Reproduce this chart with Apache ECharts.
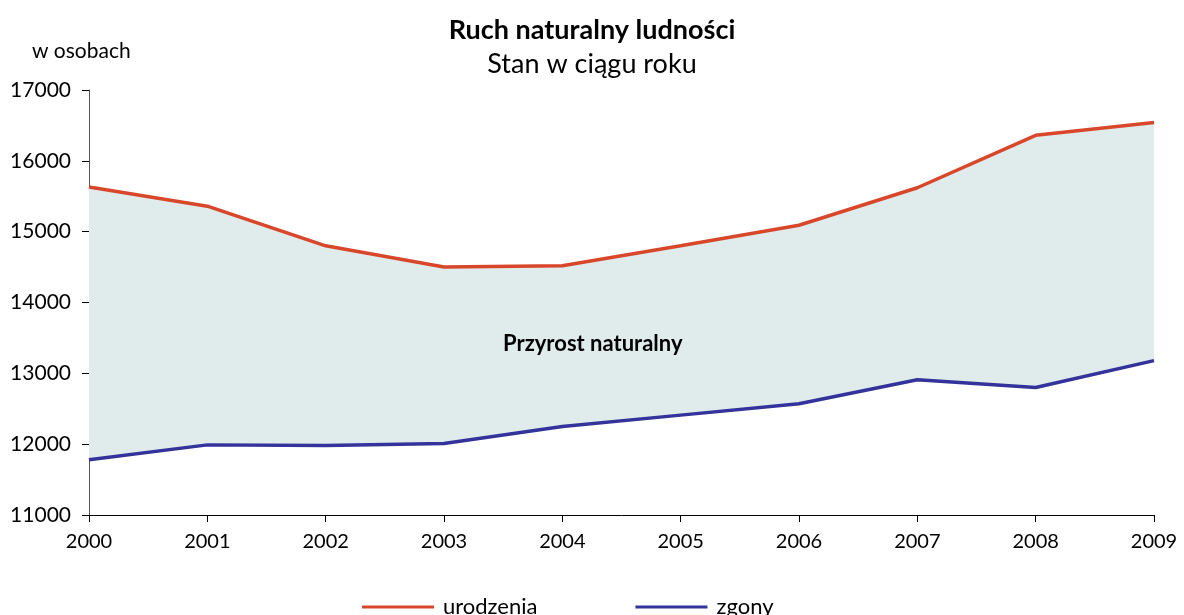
<!DOCTYPE html>
<html>
<head>
<meta charset="utf-8">
<script src="https://cdn.jsdelivr.net/npm/echarts@6/dist/echarts.min.js"></script>
<style>
html,body{margin:0;padding:0;background:#fff;}
#chart{width:1184px;height:615px;}
</style>
</head>
<body>
<div id="chart"></div>
<script>
var years = ['2000','2001','2002','2003','2004','2005','2006','2007','2008','2009'];
var urodzenia = [15630, 15360, 14800, 14500, 14520, 14800, 15090, 15620, 16360, 16540];
var zgony = [11780, 11990, 11980, 12010, 12250, 12410, 12570, 12910, 12800, 13180];
var yTicks = [11000, 12000, 13000, 14000, 15000, 16000, 17000];

var band = urodzenia.map(function (v, i) { return v - zgony[i]; });
var FONT = 'Lato, sans-serif';

var chart = echarts.init(document.getElementById('chart'));
chart.setOption({
  animation: false,
  backgroundColor: '#ffffff',
  textStyle: { fontFamily: FONT, color: '#000' },
  title: [
    { text: 'Ruch naturalny ludności', left: 'center', top: 12,
      textStyle: { fontFamily: FONT, fontSize: 27, fontWeight: 'bold', color: '#000' } },
    { text: 'Stan w ciągu roku', left: 'center', top: 46,
      textStyle: { fontFamily: FONT, fontSize: 27, fontWeight: 'normal', color: '#000' } }
  ],
  legend: {
    bottom: -8, left: 357,
    itemWidth: 72, itemHeight: 3, itemGap: 98,
    data: ['urodzenia', 'zgony'],
    textStyle: { fontFamily: FONT, fontSize: 22, color: '#000', padding: [0,0,0,4] },
    icon: 'rect'
  },
  grid: { left: 89, right: 30, top: 90, bottom: 100, containLabel: false },
  xAxis: {
    type: 'category', data: years, boundaryGap: false,
    axisLine: { lineStyle: { color: '#000', width: 1 } },
    axisTick: { show: true, length: 7, lineStyle: { color: '#000' }, alignWithLabel: true },
    axisLabel: { fontFamily: FONT, fontSize: 20, color: '#000', margin: 17 },
    splitLine: { show: false }
  },
  yAxis: {
    type: 'value', min: yTicks[0], max: yTicks[yTicks.length - 1], interval: 1000,
    name: 'w osobach', nameLocation: 'end', nameGap: 28,
    nameTextStyle: { fontFamily: FONT, fontSize: 21, color: '#000', align: 'left', padding: [0,0,0,-57] },
    axisLine: { show: true, lineStyle: { color: '#555', width: 1 } },
    axisTick: { show: true, length: 7, lineStyle: { color: '#000' } },
    axisLabel: { fontFamily: FONT, fontSize: 21, color: '#000', margin: 18,
      formatter: function (v) { return String(v); } },
    splitLine: { show: false }
  },
  graphic: [
    { type: 'text', left: 503, top: 333, z: 100,
      style: { text: 'Przyrost naturalny', fontFamily: FONT, fontSize: 22, fontWeight: 'bold', fill: '#000' } }
  ],
  series: [
    { name: 'base', type: 'line', data: zgony, stack: 'b', symbol: 'none',
      lineStyle: { width: 0 }, areaStyle: { opacity: 0 }, silent: true, z: 1 },
    { name: 'band', type: 'line', data: band, stack: 'b', symbol: 'none',
      lineStyle: { width: 0 }, areaStyle: { color: '#e0ecec', opacity: 1 }, silent: true, z: 1 },
    { name: 'urodzenia', type: 'line', data: urodzenia, symbol: 'none',
      lineStyle: { color: '#d9472b', width: 3.5 }, itemStyle: { color: '#d9472b' }, z: 3 },
    { name: 'zgony', type: 'line', data: zgony, symbol: 'none',
      lineStyle: { color: '#33339b', width: 3.5 }, itemStyle: { color: '#33339b' }, z: 3 }
  ]
});
</script>
</body>
</html>
